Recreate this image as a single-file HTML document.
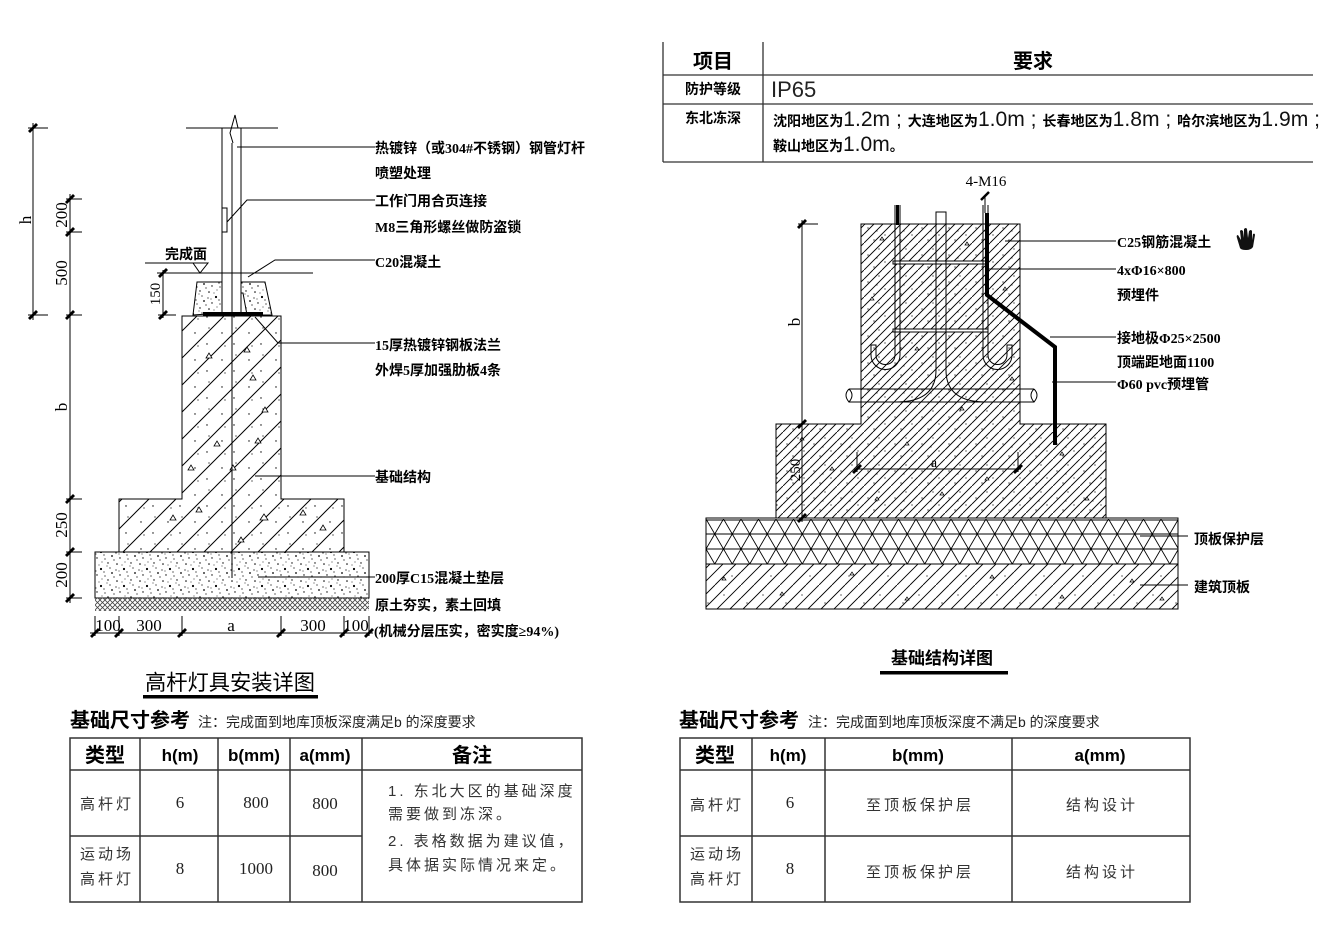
<!DOCTYPE html>
<html><head><meta charset="utf-8">
<style>
html,body{margin:0;padding:0;background:#fff;}
svg{display:block;}
.lb{font-family:"Liberation Serif","Noto Sans CJK SC",sans-serif;font-weight:bold;font-size:14px;fill:#000;}
.dm{font-family:"Liberation Serif",serif;font-size:17px;fill:#000;}
.tb{font-family:"Liberation Sans","Noto Sans CJK SC",sans-serif;font-size:15px;fill:#333;letter-spacing:3px;}
.tn{font-family:"Liberation Serif",serif;font-size:17px;fill:#222;}
.th{font-family:"Liberation Sans","Noto Sans CJK SC",sans-serif;font-weight:bold;font-size:20px;fill:#000;}
.thn{font-family:"Liberation Sans","Noto Sans CJK SC",sans-serif;font-weight:bold;font-size:17px;fill:#000;}
</style></head>
<body>
<svg width="1330" height="930" viewBox="0 0 1330 930" xmlns="http://www.w3.org/2000/svg">
<defs>
 <pattern id="hL" patternUnits="userSpaceOnUse" width="27" height="27">
  <path d="M0,27 L27,0 M-2,2 L2,-2 M25,29 L29,25" stroke="#000" stroke-width="1"/>
  <circle cx="6" cy="9" r="0.7"/><circle cx="18" cy="20" r="0.7"/><circle cx="20" cy="4" r="0.6"/><circle cx="9" cy="22" r="0.6"/>
 </pattern>
 <pattern id="hR" patternUnits="userSpaceOnUse" width="27" height="27">
  <path d="M0,9 L9,0 M0,18 L18,0 M0,27 L27,0 M9,27 L27,9 M18,27 L27,18" stroke="#000" stroke-width="0.9"/>
  <circle cx="4" cy="12" r="0.6"/><circle cx="15" cy="6" r="0.6"/><circle cx="21" cy="19" r="0.6"/><circle cx="10" cy="24" r="0.6"/>
  <circle cx="13" cy="15" r="0.5"/><circle cx="24" cy="3" r="0.5"/>
 </pattern>
 <pattern id="hS" patternUnits="userSpaceOnUse" width="39" height="39">
  <path d="M0,13 L13,0 M0,26 L26,0 M0,39 L39,0 M13,39 L39,13 M26,39 L39,26" stroke="#000" stroke-width="0.9"/>
  <circle cx="6" cy="18" r="0.6"/><circle cx="22" cy="10" r="0.6"/><circle cx="30" cy="30" r="0.6"/>
 </pattern>
 <pattern id="dots" patternUnits="userSpaceOnUse" width="23" height="17">
  <circle cx="2" cy="3" r="0.8"/><circle cx="9" cy="8" r="1.1"/><circle cx="16" cy="2" r="0.7"/><circle cx="20" cy="12" r="0.9"/>
  <circle cx="5" cy="14" r="0.7"/><circle cx="13" cy="15" r="0.6"/><circle cx="18" cy="7" r="0.6"/><circle cx="7" cy="4" r="0.5"/>
  <circle cx="12" cy="11" r="0.6"/><circle cx="1" cy="9" r="0.6"/><circle cx="15" cy="5" r="0.5"/><circle cx="22" cy="16" r="0.6"/>
  <circle cx="4" cy="10" r="0.5"/><circle cx="10" cy="1" r="0.5"/>
 </pattern>
 <pattern id="xh" patternUnits="userSpaceOnUse" width="5" height="5">
  <path d="M0,5 L5,0 M0,0 L5,5" stroke="#444" stroke-width="0.8"/>
 </pattern>
 <pattern id="tri" patternUnits="userSpaceOnUse" x="706" y="519" width="17.5" height="30">
  <path d="M0,0 L17.5,30 M17.5,0 L0,30" stroke="#000" stroke-width="0.9"/>
 </pattern>
</defs>

<!-- ===================== LEFT DRAWING ===================== -->
<g stroke="#000" stroke-width="1" fill="none">
 <line x1="186" y1="128" x2="278" y2="128"/>
 <polyline points="233,143 230,133 235,115 238,128"/>
 <line x1="222" y1="128" x2="222" y2="313"/>
 <line x1="241" y1="128" x2="241" y2="313"/>
 <rect x="222" y="208" width="5" height="24"/>
 <line x1="145" y1="263" x2="208" y2="263"/>
 <polygon points="193,263 208,263 200,273"/>
 <line x1="157" y1="273" x2="313" y2="273"/>
</g>
<path d="M193,315 L197,282 L222,282 L222,313 Z" fill="url(#dots)" stroke="#000"/>
<path d="M241,282 L265,282 L272,315 L247,315 L243,293 L241,293 Z" fill="url(#dots)" stroke="#000"/>
<rect x="203" y="312" width="60" height="3.5" fill="#000"/>
<path d="M182,316 L281,316 L281,499 L344,499 L344,552 L119,552 L119,499 L182,499 Z" fill="url(#hL)" stroke="#000" stroke-width="1"/>
<path d="M206,358 l3,-5 l3,5z M244,352 l3,-5 l3,5z M255,443 l3,-5 l3,5z M214,446 l3,-5 l3,5z M262,412 l3,-5 l3,5z M188,470 l3,-5 l3,5z M250,380 l3,-5 l3,5z M230,470 l3,-5 l3,5z M170,520 l3,-5 l3,5z M196,512 l3,-5 l3,5z M260,520 l4,-6 l4,6z M300,515 l3,-5 l3,5z M320,530 l3,-5 l3,5z M238,542 l3,-5 l3,5z" fill="#fff" stroke="#000" stroke-width="0.8"/>
<line x1="232" y1="143" x2="232" y2="578" stroke="#000" stroke-width="1"/>
<rect x="95" y="552" width="274" height="46" fill="url(#dots)" stroke="#000" stroke-width="1"/>
<rect x="95" y="598" width="274" height="13" fill="url(#xh)"/>

<g stroke="#000" stroke-width="1">
 <line x1="33" y1="123" x2="33" y2="320"/>
 <line x1="28" y1="128" x2="48" y2="128"/><line x1="28" y1="315" x2="48" y2="315"/>
 <line x1="70" y1="194" x2="70" y2="603"/>
 <line x1="66" y1="199" x2="82" y2="199"/><line x1="66" y1="232" x2="82" y2="232"/>
 <line x1="66" y1="315" x2="82" y2="315"/><line x1="66" y1="499" x2="82" y2="499"/>
 <line x1="66" y1="552" x2="82" y2="552"/><line x1="66" y1="598" x2="82" y2="598"/>
 <line x1="163" y1="270" x2="163" y2="318"/><line x1="158" y1="315" x2="176" y2="315"/>
 <line x1="90" y1="633" x2="373" y2="633"/>
 <line x1="95" y1="616" x2="95" y2="636"/><line x1="119" y1="616" x2="119" y2="636"/>
 <line x1="182" y1="616" x2="182" y2="636"/><line x1="281" y1="616" x2="281" y2="636"/>
 <line x1="344" y1="616" x2="344" y2="636"/><line x1="369" y1="616" x2="369" y2="636"/>
</g>
<g stroke="#000" stroke-width="2.8">
 <line x1="29" y1="132" x2="37" y2="124"/><line x1="29" y1="319" x2="37" y2="311"/>
 <line x1="66" y1="203" x2="74" y2="195"/><line x1="66" y1="236" x2="74" y2="228"/>
 <line x1="66" y1="319" x2="74" y2="311"/><line x1="66" y1="503" x2="74" y2="495"/>
 <line x1="66" y1="556" x2="74" y2="548"/><line x1="66" y1="602" x2="74" y2="594"/>
 <line x1="159" y1="277" x2="167" y2="269"/><line x1="159" y1="319" x2="167" y2="311"/>
 <line x1="91" y1="637" x2="99" y2="629"/><line x1="115" y1="637" x2="123" y2="629"/>
 <line x1="178" y1="637" x2="186" y2="629"/><line x1="277" y1="637" x2="285" y2="629"/>
 <line x1="340" y1="637" x2="348" y2="629"/><line x1="365" y1="637" x2="373" y2="629"/>
</g>
<g class="dm">
 <text transform="translate(31,220) rotate(-90)" text-anchor="middle">h</text>
 <text transform="translate(67,215) rotate(-90)" text-anchor="middle">200</text>
 <text transform="translate(67,273) rotate(-90)" text-anchor="middle">500</text>
 <text transform="translate(67,407) rotate(-90)" text-anchor="middle">b</text>
 <text transform="translate(67,525) rotate(-90)" text-anchor="middle">250</text>
 <text transform="translate(67,575) rotate(-90)" text-anchor="middle">200</text>
 <text transform="translate(160,294) rotate(-90)" text-anchor="middle" font-size="15">150</text>
 <text x="108" y="631" text-anchor="middle">100</text>
 <text x="149" y="631" text-anchor="middle">300</text>
 <text x="231" y="631" text-anchor="middle">a</text>
 <text x="313" y="631" text-anchor="middle">300</text>
 <text x="356" y="631" text-anchor="middle">100</text>
</g>
<text x="165" y="259" class="lb">完成面</text>

<g stroke="#000" stroke-width="1" fill="none">
 <polyline points="237,147 375,147"/>
 <polyline points="227,222 247,200 375,200"/>
 <polyline points="248,277 275,260 375,260"/>
 <polyline points="255,317 278,343 375,343"/>
 <polyline points="255,476 375,476"/>
 <polyline points="258,577 375,577"/>
</g>
<g class="lb">
 <text x="375" y="153">热镀锌（或304#不锈钢）钢管灯杆</text>
 <text x="375" y="178">喷塑处理</text>
 <text x="375" y="206">工作门用合页连接</text>
 <text x="375" y="232">M8三角形螺丝做防盗锁</text>
 <text x="375" y="267">C20混凝土</text>
 <text x="375" y="350">15厚热镀锌钢板法兰</text>
 <text x="375" y="375">外焊5厚加强肋板4条</text>
 <text x="375" y="482">基础结构</text>
 <text x="375" y="583">200厚C15混凝土垫层</text>
 <text x="375" y="610">原土夯实，素土回填</text>
 <text x="374" y="636">(机械分层压实，密实度≥94%)</text>
</g>

<text x="145" y="690" font-family="Liberation Sans,'Noto Sans CJK SC',sans-serif" font-size="21.5" fill="#000" textLength="170" lengthAdjust="spacingAndGlyphs">高杆灯具安装详图</text>
<rect x="143" y="695" width="175" height="3.5" fill="#000"/>

<text x="70" y="727" class="th" font-size="20">基础尺寸参考</text>
<text x="198" y="727" font-family="Liberation Sans,'Noto Sans CJK SC',sans-serif" font-size="14" fill="#222">注：完成面到地库顶板深度满足b 的深度要求</text>
<g stroke="#333" stroke-width="1.5" fill="none">
 <rect x="70" y="738" width="512" height="164"/>
 <line x1="70" y1="770" x2="582" y2="770"/>
 <line x1="70" y1="836" x2="362" y2="836"/>
 <line x1="140" y1="738" x2="140" y2="902"/>
 <line x1="218" y1="738" x2="218" y2="902"/>
 <line x1="290" y1="738" x2="290" y2="902"/>
 <line x1="362" y1="738" x2="362" y2="902"/>
</g>
<g text-anchor="middle">
 <text x="105" y="762" class="th">类型</text>
 <text x="180" y="761" class="thn">h(m)</text>
 <text x="254" y="761" class="thn">b(mm)</text>
 <text x="325" y="761" class="thn">a(mm)</text>
 <text x="472" y="762" class="th">备注</text>
 <text x="107" y="809" class="tb">高杆灯</text>
 <text x="180" y="808" class="tn">6</text>
 <text x="256" y="808" class="tn">800</text>
 <text x="325" y="809" class="tn">800</text>
 <text x="107" y="859" class="tb">运动场</text>
 <text x="107" y="884" class="tb">高杆灯</text>
 <text x="180" y="874" class="tn">8</text>
 <text x="256" y="874" class="tn">1000</text>
 <text x="325" y="876" class="tn">800</text>
</g>
<g class="tb">
 <text x="388" y="796">1. 东北大区的基础深度</text>
 <text x="388" y="819">需要做到冻深。</text>
 <text x="388" y="846">2. 表格数据为建议值，</text>
 <text x="388" y="870">具体据实际情况来定。</text>
</g>

<!-- ===================== TOP RIGHT TABLE ===================== -->
<g stroke="#333" stroke-width="1.3">
 <line x1="663" y1="42" x2="663" y2="162"/>
 <line x1="763" y1="42" x2="763" y2="162"/>
 <line x1="663" y1="75" x2="1313" y2="75"/>
 <line x1="663" y1="104" x2="1313" y2="104"/>
 <line x1="663" y1="162" x2="1313" y2="162"/>
</g>
<text x="713" y="68" text-anchor="middle" class="th" font-size="18">项目</text>
<text x="1033" y="68" text-anchor="middle" class="th" font-size="18">要求</text>
<text x="713" y="94" text-anchor="middle" class="lb" font-size="13">防护等级</text>
<text x="771" y="97" font-family="Liberation Sans,sans-serif" font-size="22" fill="#222">IP65</text>
<text x="713" y="123" text-anchor="middle" class="lb" font-size="13">东北冻深</text>
<text x="773" y="126" textLength="547" lengthAdjust="spacingAndGlyphs" fill="#111"><tspan class="lb" font-size="14">沈阳地区为</tspan><tspan font-family="Liberation Sans,sans-serif" font-size="21">1.2m ; </tspan><tspan class="lb" font-size="14">大连地区为</tspan><tspan font-family="Liberation Sans,sans-serif" font-size="21">1.0m ; </tspan><tspan class="lb" font-size="14">长春地区为</tspan><tspan font-family="Liberation Sans,sans-serif" font-size="21">1.8m ; </tspan><tspan class="lb" font-size="14">哈尔滨地区为</tspan><tspan font-family="Liberation Sans,sans-serif" font-size="21">1.9m ;</tspan></text>
<text x="773" y="151" fill="#111"><tspan class="lb" font-size="14">鞍山地区为</tspan><tspan font-family="Liberation Sans,sans-serif" font-size="21">1.0m</tspan><tspan class="lb" font-size="14">。</tspan></text>

<!-- ===================== RIGHT DRAWING ===================== -->
<path d="M861,224 L1020,224 L1020,424 L1106,424 L1106,518 L776,518 L776,424 L861,424 Z" fill="url(#hR)" stroke="#000" stroke-width="1"/>
<path d="M880,240 l2,-3 l2,3z M965,245 l2,-3 l2,3z M1003,290 l2,-3 l2,3z M870,300 l2,-3 l2,3z M915,350 l2,-3 l2,3z M1010,380 l2,-3 l2,3z M960,410 l2,-3 l2,3z M800,440 l2,-3 l2,3z M830,470 l2,-3 l2,3z M905,445 l2,-3 l2,3z M985,480 l2,-3 l2,3z M1060,455 l2,-3 l2,3z M1085,500 l2,-3 l2,3z M875,500 l2,-3 l2,3z M940,495 l2,-3 l2,3z" fill="#fff" stroke="#000" stroke-width="0.7"/>
<rect x="706" y="519" width="472" height="45" fill="url(#tri)"/>
<g stroke="#000" stroke-width="1" fill="none">
 <rect x="706" y="518" width="472" height="46"/>
 <line x1="706" y1="520" x2="1178" y2="520"/>
 <line x1="706" y1="534" x2="1178" y2="534"/>
 <line x1="706" y1="549" x2="1178" y2="549"/>
</g>
<rect x="706" y="564" width="472" height="45" fill="url(#hS)" stroke="#000" stroke-width="1"/>
<path d="M722,580 l2,-3 l2,3z M780,595 l2,-3 l2,3z M850,575 l2,-3 l2,3z M905,600 l2,-3 l2,3z M990,578 l2,-3 l2,3z M1060,598 l2,-3 l2,3z M1130,582 l2,-3 l2,3z M1160,600 l2,-3 l2,3z" fill="#fff" stroke="#000" stroke-width="0.7"/>

<g stroke="#000" stroke-width="1" fill="none">
 <rect x="893" y="261" width="95" height="3" fill="#fff"/>
 <rect x="893" y="329" width="95" height="3" fill="#fff"/>
 <line x1="895" y1="205" x2="895" y2="355"/>
 <line x1="900" y1="205" x2="900" y2="355"/>
 <path d="M900,355 A14.5,14.5 0 0 1 871,355 L871,345 L876,345 L876,355 A9.5,9.5 0 0 0 895,355"/>
 <line x1="983" y1="205" x2="983" y2="355"/>
 <line x1="988" y1="205" x2="988" y2="355"/>
 <path d="M983,355 A14.5,14.5 0 0 0 1012,355 L1012,345 L1007,345 L1007,355 A9.5,9.5 0 0 1 988,355"/>
 <rect x="936" y="212" width="10" height="12" fill="#fff"/>
 <line x1="936" y1="224" x2="936" y2="370"/>
 <line x1="946" y1="224" x2="946" y2="370"/>
 <path d="M936,370 Q936,402 896,402"/>
 <path d="M946,370 Q946,402 986,402"/>
 <path d="M849,389 L1034,389 M849,402 L1034,402"/>
 <path d="M849,389 Q843,395 849,402 Q855,395 849,389"/>
 <path d="M1034,389 Q1028,395 1034,402 Q1040,395 1034,389"/>
</g>
<rect x="896" y="205" width="3" height="20" fill="#000"/>
<path d="M987,213 L987,295 L1055,347 L1055,445" stroke="#000" stroke-width="4" fill="none"/>
<line x1="985" y1="197" x2="985" y2="213" stroke="#000" stroke-width="1"/>
<line x1="981" y1="200" x2="989" y2="192" stroke="#000" stroke-width="2.5"/>
<text x="986" y="186" text-anchor="middle" font-family="Liberation Serif,serif" font-size="15" fill="#000">4-M16</text>

<g stroke="#000" stroke-width="1">
 <line x1="802" y1="220" x2="802" y2="522"/>
 <line x1="798" y1="224" x2="818" y2="224"/>
 <line x1="857" y1="452" x2="857" y2="472"/>
 <line x1="1018" y1="452" x2="1018" y2="472"/>
 <line x1="854" y1="469" x2="1021" y2="469"/>
</g>
<g stroke="#000" stroke-width="2.8">
 <line x1="798" y1="228" x2="806" y2="220"/>
 <line x1="798" y1="428" x2="806" y2="420"/>
 <line x1="798" y1="522" x2="806" y2="514"/>
 <line x1="853" y1="473" x2="861" y2="465"/>
 <line x1="1014" y1="473" x2="1022" y2="465"/>
</g>
<g class="dm">
 <text transform="translate(800,322) rotate(-90)" text-anchor="middle">b</text>
 <text transform="translate(800,470) rotate(-90)" text-anchor="middle" font-size="15">250</text>
 <text x="934" y="467" text-anchor="middle" font-size="14">a</text>
</g>

<g stroke="#000" stroke-width="1">
 <line x1="1005" y1="241" x2="1116" y2="241"/>
 <line x1="985" y1="269" x2="1116" y2="269"/>
 <line x1="1050" y1="337" x2="1116" y2="337"/>
 <line x1="1052" y1="382" x2="1116" y2="382"/>
 <line x1="1140" y1="536" x2="1188" y2="536"/>
 <line x1="1140" y1="585" x2="1188" y2="585"/>
</g>
<g class="lb">
 <text x="1117" y="247">C25钢筋混凝土</text>
 <text x="1117" y="275">4xΦ16×800</text>
 <text x="1117" y="300">预埋件</text>
 <text x="1117" y="343">接地极Φ25×2500</text>
 <text x="1117" y="367">顶端距地面1100</text>
 <text x="1117" y="389">Φ60 pvc预埋管</text>
 <text x="1194" y="544">顶板保护层</text>
 <text x="1194" y="592">建筑顶板</text>
</g>
<path d="M1240,248 L1237,238 Q1236,235 1238,235 L1241,240 L1240,231 Q1241,229 1243,231 L1244,238 L1244,229 Q1246,227 1247,229 L1248,238 L1249,231 Q1251,229 1252,231 L1252,240 L1253,234 Q1255,233 1255,235 L1253,247 Q1251,250 1246,250 Q1241,250 1240,248 Z" fill="#111"/>

<text x="891" y="664" font-family="Liberation Sans,'Noto Sans CJK SC',sans-serif" font-weight="bold" font-size="17" fill="#000">基础结构详图</text>
<rect x="880" y="671" width="128" height="3.5" fill="#000"/>

<text x="679" y="727" class="th">基础尺寸参考</text>
<text x="808" y="727" font-family="Liberation Sans,'Noto Sans CJK SC',sans-serif" font-size="14" fill="#222">注：完成面到地库顶板深度不满足b 的深度要求</text>
<g stroke="#333" stroke-width="1.5" fill="none">
 <rect x="680" y="738" width="510" height="164"/>
 <line x1="680" y1="770" x2="1190" y2="770"/>
 <line x1="680" y1="836" x2="1190" y2="836"/>
 <line x1="752" y1="738" x2="752" y2="902"/>
 <line x1="825" y1="738" x2="825" y2="902"/>
 <line x1="1012" y1="738" x2="1012" y2="902"/>
</g>
<g text-anchor="middle">
 <text x="715" y="762" class="th">类型</text>
 <text x="788" y="761" class="thn">h(m)</text>
 <text x="918" y="761" class="thn">b(mm)</text>
 <text x="1100" y="761" class="thn">a(mm)</text>
 <text x="717" y="810" class="tb">高杆灯</text>
 <text x="790" y="808" class="tn">6</text>
 <text x="920" y="810" class="tb">至顶板保护层</text>
 <text x="1102" y="810" class="tb">结构设计</text>
 <text x="717" y="859" class="tb">运动场</text>
 <text x="717" y="884" class="tb">高杆灯</text>
 <text x="790" y="874" class="tn">8</text>
 <text x="920" y="877" class="tb">至顶板保护层</text>
 <text x="1102" y="877" class="tb">结构设计</text>
</g>
</svg>
</body></html>
